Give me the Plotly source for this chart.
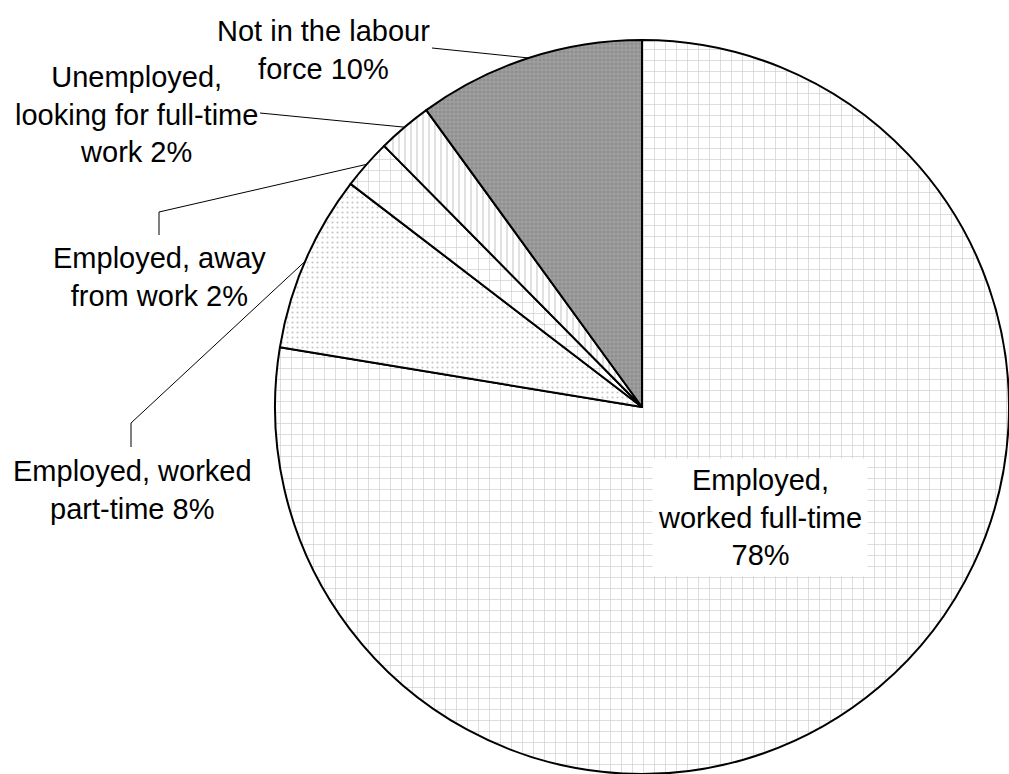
import math
import plotly.graph_objects as go

# Labour force status shares (percent), listed clockwise from 12 o'clock
labels = [
    "Employed,<br>worked full-time<br>",
    "Employed, worked<br>part-time",
    "Employed, away<br>from work",
    "Unemployed,<br>looking for full-time<br>work ",
    "Not in the labour<br>force",
]
values = [77.6, 7.8, 2.2, 2.4, 10.0]

# Fill styles per slice
shapes_ = ["+", ".", "+", "|", "+"]
bg_colors = ["white", "white", "white", "white", "#8e8e8e"]
fg_colors = ["#9c9c9c", "#8a8a8a", "#9c9c9c", "#9a9a9a", "#c6c6c6"]
sizes = [11, 5, 11, 6, 4]
solidities = [0.12, 0.15, 0.12, 0.2, 0.35]

W, H = 1009, 774
FONT = "Liberation Sans, Arial, sans-serif"
FS = 29

# Pie placement in pixels (domain is a square so the radius is half its side)
cx, cy, R = 642.0, 407.0, 367.0
dom_x = [(cx - R) / W, (cx + R) / W]
dom_y = [(H - (cy + R)) / H, (H - (cy - R)) / H]

fig = go.Figure(
    go.Pie(
        labels=[l.replace("<br>", " ").strip() for l in labels],
        values=values,
        sort=False,
        direction="clockwise",
        rotation=0,
        textinfo="none",
        hoverinfo="label+percent",
        domain=dict(x=dom_x, y=dom_y),
        marker=dict(
            colors=bg_colors,
            line=dict(color="black", width=2),
            pattern=dict(
                shape=shapes_,
                fgcolor=fg_colors,
                bgcolor=bg_colors,
                size=sizes,
                solidity=solidities,
                fillmode="overlay",
            ),
        ),
        showlegend=False,
    )
)

total = sum(values)


def px(x, y):
    return x / W, 1 - y / H


def arc_point(i):
    # Midpoint angle of slice i, measured clockwise from 12 o'clock
    start = sum(values[:i]) / total * 360
    mid = math.radians(start + values[i] / total * 180)
    return cx + R * math.sin(mid), cy - R * math.cos(mid)


def pct(i):
    return f"{round(values[i] / total * 100):d}%"


# Outside labels (slices 1..4): text centre and leader line bend points (pixels)
label_pos = {1: (132, 490), 2: (159, 277), 3: (136, 114), 4: (323, 50)}
leader_pts = {
    1: [(131, 447), (131, 423)],
    2: [(159, 235), (159, 212)],
    3: [(260, 113)],
    4: [(432, 48)],
}

shapes = []
for i, pts in leader_pts.items():
    ax, ay = arc_point(i)
    all_pts = pts + [(ax, ay)]
    path = "M " + " L ".join(f"{px(x, y)[0]} {px(x, y)[1]}" for x, y in all_pts)
    shapes.append(dict(type="path", path=path, xref="paper", yref="paper",
                       line=dict(color="black", width=1)))

annotations = []
for i, (lx, ly) in label_pos.items():
    sep = "" if labels[i].endswith(" ") else " "
    annotations.append(dict(
        x=px(lx, ly)[0], y=px(lx, ly)[1], xref="paper", yref="paper",
        text=labels[i] + sep + pct(i), showarrow=False,
        xanchor="center", yanchor="middle", align="center",
        font=dict(family=FONT, size=FS, color="black"),
    ))

# Full-time label sits inside its slice on a white box
annotations.append(dict(
    x=px(760, 517)[0], y=px(760, 517)[1], xref="paper", yref="paper",
    text=labels[0] + pct(0), showarrow=False,
    xanchor="center", yanchor="middle", align="center",
    bgcolor="white", borderpad=5,
    font=dict(family=FONT, size=FS, color="black"),
))

fig.update_layout(
    width=W, height=H,
    margin=dict(l=0, r=0, t=0, b=0),
    paper_bgcolor="white", plot_bgcolor="white",
    shapes=shapes, annotations=annotations,
)

fig.write_html("out.html")
